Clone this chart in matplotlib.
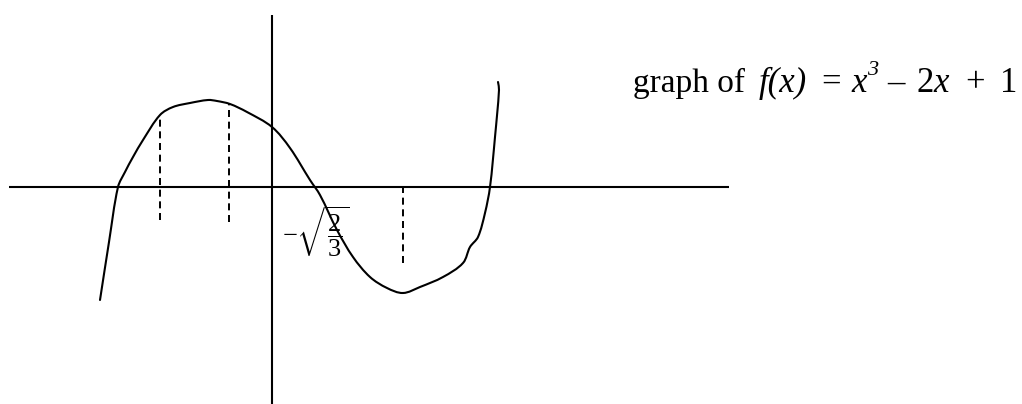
import math
import matplotlib
matplotlib.use("Agg")
import matplotlib.pyplot as plt
from matplotlib.path import Path
from matplotlib.patches import PathPatch

plt.rcParams['mathtext.fontset'] = 'custom'
plt.rcParams['mathtext.rm'] = 'Liberation Serif'
plt.rcParams['mathtext.it'] = 'Liberation Serif:italic'
plt.rcParams['font.family'] = ['Liberation Serif', 'DejaVu Serif']

# hand-drawn curve (units: axes origin at intersection, 100 px per unit)
curve_x = [-1.72, -1.63, -1.54, -1.47, -1.39, -1.29, -1.12, -0.99, -0.82, -0.64, -0.55,
           -0.42, -0.25, 0.00, 0.18, 0.38, 0.48, 0.65, 0.81, 0.98, 1.15, 1.31,
           1.48, 1.71, 1.91, 1.98, 2.06, 2.13, 2.18, 2.23, 2.27, 2.26]
curve_y = [-1.13, -0.55, 0.00, 0.15, 0.30, 0.47, 0.72, 0.80, 0.84, 0.87, 0.86,
           0.83, 0.75, 0.60, 0.39, 0.07, -0.08, -0.43, -0.70, -0.90, -1.01, -1.06,
           -1.00, -0.90, -0.76, -0.60, -0.50, -0.26, 0.00, 0.50, 0.97, 1.05]

# axes extents
xaxis_range = [-2.63, 4.57]
yaxis_range = [-2.17, 1.72]

# dashed guide lines
dash_x = [-1.12, -0.43, 1.31]
dash_top = [0.72, 0.83, 0.00]
dash_bottom = [-0.33, -0.35, -0.76]

# caption pieces
caption_text = ["graph of", "f(x)", "=", "x", "3", "\u2013", "2", "x", "+", "1"]
caption_italic = [False, True, False, True, True, False, False, True, False, False]
caption_size = [24, 25, 25, 25, 16, 25, 25, 25, 25, 25]
caption_sup = [False, False, False, False, True, False, False, False, False, False]
caption_gap = [1.8, 2.0, 1.4, 0.0, 1.2, 1.6, 0.0, 2.2, 2.0]  # relative gap weights
caption_left, caption_right, caption_base = 633, 1017, 92
root_label = r"$-\sqrt{\dfrac{2}{3}}$"

W, H = 1022, 404
fig = plt.figure(figsize=(W / 100, H / 100), dpi=100)
ax = fig.add_axes([0, 0, 1, 1])
ax.set_xlim(-2.72, 7.50)
ax.set_ylim(-2.17, 1.87)
ax.axis('off')

ax.plot(xaxis_range, [0, 0], color='black', lw=1.5, solid_capstyle='butt')
ax.plot([0, 0], yaxis_range, color='black', lw=1.5, solid_capstyle='butt')

for x, t, b in zip(dash_x, dash_top, dash_bottom):
    ax.plot([x, x], [b, t], color='black', lw=1.4, linestyle=(0, (3.6, 2.4)))

# smooth curve through the points, drawn as a cubic Bezier path
pts = list(zip(curve_x, curve_y))
n = len(pts)


def unit_tangent(i):
    a = pts[max(i - 1, 0)]
    b = pts[min(i + 1, n - 1)]
    dx, dy = b[0] - a[0], b[1] - a[1]
    L = math.hypot(dx, dy) or 1.0
    return dx / L, dy / L


verts = [pts[0]]
codes = [Path.MOVETO]
for i in range(n - 1):
    p1, p2 = pts[i], pts[i + 1]
    d = math.hypot(p2[0] - p1[0], p2[1] - p1[1]) / 3
    t1, t2 = unit_tangent(i), unit_tangent(i + 1)
    c1 = (p1[0] + t1[0] * d, p1[1] + t1[1] * d)
    c2 = (p2[0] - t2[0] * d, p2[1] - t2[1] * d)
    verts += [c1, c2, p2]
    codes += [Path.CURVE4] * 3
ax.add_patch(PathPatch(Path(verts, codes), facecolor='none', edgecolor='black',
                       lw=1.5, joinstyle='round', capstyle='round'))

# caption laid out piece by piece
renderer = fig.canvas.get_renderer()
texts = []
for txt, ital, fs, sup in zip(caption_text, caption_italic, caption_size, caption_sup):
    by = caption_base - 17 if sup else caption_base
    t = fig.text(0, 1 - by / H, txt, fontsize=fs,
                 fontstyle='italic' if ital else 'normal',
                 ha='left', va='baseline', color='black')
    texts.append(t)
widths = [t.get_window_extent(renderer).width for t in texts]
free = (caption_right - caption_left) - sum(widths)
unit = free / sum(caption_gap)
xpos = caption_left
for i, t in enumerate(texts):
    t.set_x(xpos / W)
    xpos += widths[i]
    if i < len(caption_gap):
        xpos += caption_gap[i] * unit

ax.text(0.10, -0.45, root_label, fontsize=19, ha='left', va='center', color='black')

fig.savefig("out.png", dpi=100)
